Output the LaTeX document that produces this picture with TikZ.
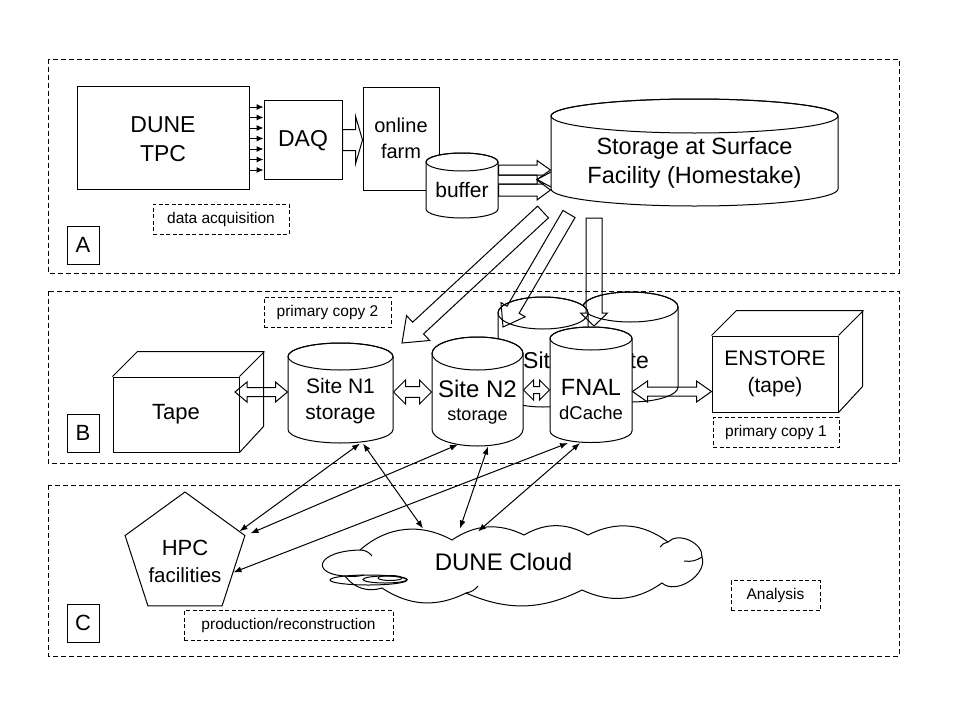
\documentclass[tikz,border=0pt]{standalone}
\usepackage{fontspec}
\setmainfont{Liberation Sans}
\usetikzlibrary{calc,arrows.meta,shapes.geometric}

\newcommand{\drum}[6]{%
  \filldraw[fill=white] (#2-#5,#3) -- (#2-#5,#4) arc (180:360:#5pt and #6pt)
    -- (#2+#5,#3) arc (0:180:#5pt and #6pt) -- cycle;
  \draw (#2,#3) ellipse (#5pt and #6pt);
  \node[hold,minimum width=2*#5,minimum height=#4-#3+2*#6] (#1) at (#2,{(#3+#4)/2}) {};}

\newcommand{\fatarrow}[5]{%
  \coordinate (hd) at ($(#2)!#5!(#1)$);
  \draw ($(#1)!#3!90:(#2)$) -- ($(hd)!#3!90:(#2)$) -- ($(hd)!#4!90:(#2)$) -- (#2)
    -- ($(hd)!#4!-90:(#2)$) -- ($(hd)!#3!-90:(#2)$) -- ($(#1)!#3!-90:(#2)$) -- cycle;}

\newcommand{\fatboth}[5]{%
  \coordinate (ha) at ($(#1)!#5!(#2)$);
  \coordinate (hb) at ($(#2)!#5!(#1)$);
  \draw (#1) -- ($(ha)!#4!90:(#2)$) -- ($(ha)!#3!90:(#2)$) -- ($(hb)!#3!90:(#2)$)
    -- ($(hb)!#4!90:(#2)$) -- (#2) -- ($(hb)!#4!-90:(#2)$) -- ($(hb)!#3!-90:(#2)$)
    -- ($(ha)!#3!-90:(#2)$) -- ($(ha)!#4!-90:(#2)$) -- cycle;}

\begin{document}
\begin{tikzpicture}[x=1pt,y=-1pt,line width=1pt,
  >={Latex[length=8pt,width=6pt]},
  zone/.style={draw,dash pattern=on 5pt off 3pt},
  tag/.style={draw,dash pattern=on 4pt off 2.5pt,inner sep=0pt,minimum height=30pt,font=\fontsize{15.5}{18}\selectfont},
  letter/.style={draw,minimum width=32pt,minimum height=38pt,inner sep=0pt,font=\fontsize{22}{26}\selectfont},
  unit/.style={draw,fill=white,inner sep=0pt,align=center},
  hold/.style={inner sep=0pt},
  word/.style={inner sep=0pt,align=center}]
\useasboundingbox (0,0) rectangle (960,720);

\draw[zone] (48,59) rectangle (899,273);
\draw[zone] (48,291) rectangle (899,463);
\draw[zone] (48,485) rectangle (899,656);

\node[letter] (la) at (83,245) {A};
\node[letter] (lb) at (83,433) {B};
\node[letter] (lc) at (83,623) {C};

\node[tag,minimum width=136pt] (acq) at (221,219) {data acquisition};
\node[tag,minimum width=127pt] (copy2) at (327.5,312) {primary copy 2};
\node[tag,minimum width=126pt] (copy1) at (776,432) {primary copy 1};
\node[tag,minimum width=209pt] (prod) at (288.5,625.5) {production/reconstruction};
\node[tag,minimum width=89pt] (ana) at (775.5,595.5) {Analysis};

\node[unit,minimum width=172pt,minimum height=103pt] (tpc) at (163,137.5) {};
\node[word,font=\fontsize{23}{29}\selectfont] (tpcname) at (163,139.5) {DUNE\\TPC};
\node[unit,minimum width=78pt,minimum height=79pt] (daq) at (303,139.5) {};
\node[word,font=\fontsize{23}{28}\selectfont] (daqname) at (303,140.5) {DAQ};
\node[unit,minimum width=76pt,minimum height=103pt,font=\fontsize{20}{26}\selectfont] (farm) at (401,138.5) {online\\farm};

\foreach \y in {107,117.5,...,170}
  \draw[-{Latex[length=7pt,width=6pt]}] (tpc.east |- 0,\y) -- (daq.west |- 0,\y);

\coordinate (f0) at (daq.east |- 0,140);
\coordinate (f1) at (farm.west |- 0,140);
\fatarrow{f0}{f1}{10.5pt}{24pt}{7pt}

\drum{buffer}{462}{162}{209}{36}{9}
\node[word,font=\fontsize{21}{25}\selectfont] (bufname) at (462,190) {buffer};

\drum{storage}{694.5}{116}{189}{143.5}{17}
\node[word,font=\fontsize{23.5}{29}\selectfont] (storname) at (694.5,162.5) {Storage at Surface\\Facility (Homestake)};

\coordinate (p1) at (buffer.east |- 0,170);
\coordinate (q1) at (storage.west |- 0,170);
\fatarrow{p1}{q1}{5pt}{9.5pt}{13.5pt}
\coordinate (p3) at (buffer.east |- 0,190);
\coordinate (q3) at (storage.west |- 0,190);
\fatarrow{p3}{q3}{6pt}{10pt}{13.5pt}
\draw (buffer.east |- 0,175) -- (544,175) (buffer.east |- 0,184) -- (544,184)
  (551,172) -- (537,179.5) -- (551,187);

\drum{siteb}{630.5}{307}{387}{47.5}{15}
\node[word,font=\fontsize{23}{28}\selectfont] (sitebname) at (629,360) {Site};
\drum{sitea}{543}{313}{391}{45}{16}
\node[word,font=\fontsize{23}{28}\selectfont] (siteaname) at (543,360) {Site};

\node[unit,minimum width=126pt,minimum height=75pt,font=\fontsize{22}{26}\selectfont] (tape) at (176,414.5) {Tape};
\draw (tape.north west) -- ++(25,-25) -- ++(126,0) -- ++(0,75) -- (tape.south east)
  (tape.north east) -- ++(25,-25);

\drum{n1}{340.5}{356.5}{429.5}{52.5}{13.5}
\node[word,font=\fontsize{21}{26}\selectfont] (n1name) at (340.5,401) {Site N1\\storage};

\drum{n2}{477.5}{353.5}{429.5}{45.5}{16.5}
\node[word,font=\fontsize{24}{28}\selectfont] (n2name) at (477.5,389) {Site N2};
\node[word,font=\fontsize{18}{22}\selectfont] (n2sub) at (477.5,417) {storage};

\drum{fnal}{591}{338.5}{431}{41}{11.5}
\node[word,font=\fontsize{23.5}{28}\selectfont] (fnalname) at (591,387) {FNAL};
\node[word,font=\fontsize{18.5}{22}\selectfont] (fnalsub) at (591,413) {dCache};

\node[unit,minimum width=126pt,minimum height=76pt,font=\fontsize{21}{27}\selectfont] (enstore) at (775,374) {ENSTORE\\(tape)};
\draw (enstore.north west) -- ++(25,-25) -- ++(126,0) -- ++(0,76) -- (enstore.south east)
  (enstore.north east) -- ++(25,-25);

\coordinate (t0) at (235,392);
\coordinate (t1) at (n1.west |- 0,392);
\fatboth{t0}{t1}{4.5pt}{10pt}{12pt}
\coordinate (u0) at (n1.east |- 0,392);
\coordinate (u1) at (n2.west |- 0,392);
\fatboth{u0}{u1}{5.3pt}{12pt}{12pt}
\coordinate (v0) at (n2.east |- 0,390);
\coordinate (v1) at (fnal.west |- 0,390);
\fatboth{v0}{v1}{3.5pt}{10pt}{10pt}
\coordinate (w0) at (fnal.east |- 0,391.5);
\coordinate (w1) at (enstore.west |- 0,391.5);
\fatboth{w0}{w1}{4.5pt}{10.5pt}{15pt}

\coordinate (d1) at (543,212);
\coordinate (e1) at (402,343);
\fatarrow{d1}{e1}{8pt}{17pt}{22pt}
\coordinate (d2) at (569,214);
\coordinate (e2) at (503,327);
\fatarrow{d2}{e2}{7pt}{14pt}{20pt}
\coordinate (d3) at (594,218);
\coordinate (e3) at (594,326);
\fatarrow{d3}{e3}{8pt}{13.5pt}{13pt}

\node[draw,fill=white,regular polygon,regular polygon sides=5,minimum size=126pt,inner sep=0pt] (hpc) at (185,555) {};
\node[word,font=\fontsize{22}{26}\selectfont] (hpcname) at (185,548) {HPC};
\node[word,font=\fontsize{20.5}{24}\selectfont] (hpcsub) at (185,575) {facilities};

\filldraw[fill=white] (345,576) .. controls (310,574) and (316,551) .. (360,550)
  to[bend left=35] (452,540) to[bend left=30] (524,535) to[bend left=30] (588,535)
  to[bend left=32] (668,542) to[bend left=70] (702,557) to[bend left=75] (662,583)
  to[bend left=30] (582,590) to[bend left=25] (466,593) to[bend left=30] (382,588)
  to[bend left=35] cycle;
\draw (360,550) to[bend left=25] (372,556) (668,542) to[bend right=20] (660,547)
  (702,557) to[bend left=20] (684,561) (466,593) to[bend right=20] (478,586)
  (345,576) to[bend right=10] (364,575);
\node[hold,minimum width=389pt,minimum height=66pt] (cloud) at (517.5,566) {};
\node[word,font=\fontsize{24}{28}\selectfont] (cloudname) at (503.5,562) {DUNE Cloud};
\draw (368.5,580) ellipse (38.5pt and 5pt);
\draw (385,579.5) ellipse (22pt and 3.5pt);
\draw (390,578) ellipse (12pt and 2.5pt);

\draw[<->] ([xshift=19.5pt]n1.south) -- ([shift={(-6,-4)}]hpc.corner 5);
\draw[<->] ([xshift=22.5pt]n1.south) -- ([shift={(-94.5,-4)}]cloud.north);
\draw[<->] ([xshift=-19.5pt,yshift=2pt]n2.south) -- ([shift={(5,-2)}]hpc.corner 5);
\draw[<->] ([xshift=10.5pt]n2.south) -- ([shift={(-57.5,-4)}]cloud.north);
\draw[<->] ([xshift=-23pt]fnal.south) -- ($(hpc.corner 5)!0.52!(hpc.corner 4)$);
\draw[<->] ([xshift=-11pt]fnal.south) -- ([shift={(-39.5,-1)}]cloud.north);
\end{tikzpicture}
\end{document}
